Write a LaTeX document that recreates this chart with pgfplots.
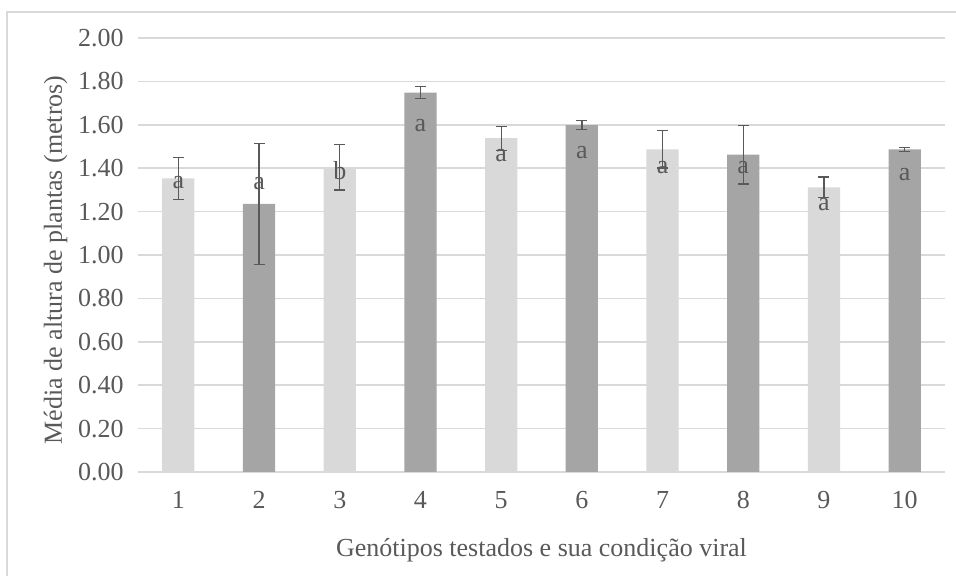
\documentclass[border=0pt]{standalone}
\usepackage{pgfplots}
\pgfplotsset{compat=1.18}
\usepackage{fontspec}
\setmainfont{Liberation Serif}
\definecolor{textgray}{HTML}{595959}
\definecolor{gridgray}{HTML}{D9D9D9}
\definecolor{lightbar}{HTML}{D9D9D9}
\definecolor{darkbar}{HTML}{A5A5A5}
\definecolor{errgray}{HTML}{595959}
\begin{document}
\begin{tikzpicture}
\useasboundingbox (-69pt,-52pt) rectangle (409pt,236pt);
\draw[gridgray, line width=0.6pt] (-65.5pt,-60pt) -- (-65.5pt,230pt) -- (420pt,230pt);
\begin{axis}[
  at={(0,0)}, anchor=south west,
  scale only axis, width=403.5pt, height=217pt,
  xmin=0.5, xmax=10.5, ymin=0, ymax=2,
  xtick={1,2,3,4,5,6,7,8,9,10},
  ytick={0,0.2,0.4,0.6,0.8,1.0,1.2,1.4,1.6,1.8,2.0},
  y tick label style={/pgf/number format/fixed, /pgf/number format/fixed zerofill, /pgf/number format/precision=2},
  /pgf/number format/assume math mode=true,
  ymajorgrids, grid style={color=gridgray, line width=0.75pt},
  axis line style={draw=none},
  major tick length=0pt,
  tick label style={font=\fontsize{13}{15}\selectfont, color=textgray},
  yticklabel style={xshift=-3.7pt},
  xticklabel style={yshift=-6.3pt},
  xlabel={Genótipos testados e sua condição viral},
  ylabel={Média de altura de plantas (metros)},
  every axis x label/.style={at={(axis description cs:0.5,0)}, anchor=base, yshift=-42.5pt, font=\fontsize{13}{15}\selectfont, color=textgray},
  every axis y label/.style={at={(axis description cs:0,0.5)}, xshift=-38pt, yshift=-2.5pt, rotate=90, anchor=base, font=\fontsize{13}{15}\selectfont, color=textgray},
  clip=false,
]
\addplot[ybar, bar width=0.4, fill=lightbar, draw=none, bar shift=0pt,
  error bars/.cd, y dir=both, y explicit,
  error bar style={color=errgray, line width=0.65pt},
  error mark options={rotate=90, mark size=2.75pt, line width=0.65pt, color=errgray}]
  table[x=x, y=y, y error=e] {
x y e
1 1.353 0.097
3 1.404 0.104
5 1.538 0.055
7 1.487 0.086
9 1.312 0.048
};
\addplot[ybar, bar width=0.4, fill=darkbar, draw=none, bar shift=0pt,
  error bars/.cd, y dir=both, y explicit,
  error bar style={color=errgray, line width=0.65pt},
  error mark options={rotate=90, mark size=2.75pt, line width=0.65pt, color=errgray}]
  table[x=x, y=y, y error=e] {
x y e
2 1.235 0.280
4 1.748 0.028
6 1.599 0.020
8 1.462 0.135
10 1.487 0.009
};
\addplot[only marks, mark=text, text mark={},
  nodes near coords, point meta=explicit symbolic,
  every node near coord/.append style={anchor=base, inner sep=0pt, yshift=0pt, font=\fontsize{13}{15}\selectfont, text=textgray}]
  table[x=x, y=y, meta=l] {
x y l
1 1.307 a
2 1.303 a
3 1.349 b
4 1.568 a
5 1.433 a
6 1.446 a
7 1.376 a
8 1.376 a
9 1.207 a
10 1.342 a
};
\end{axis}
\end{tikzpicture}
\end{document}
